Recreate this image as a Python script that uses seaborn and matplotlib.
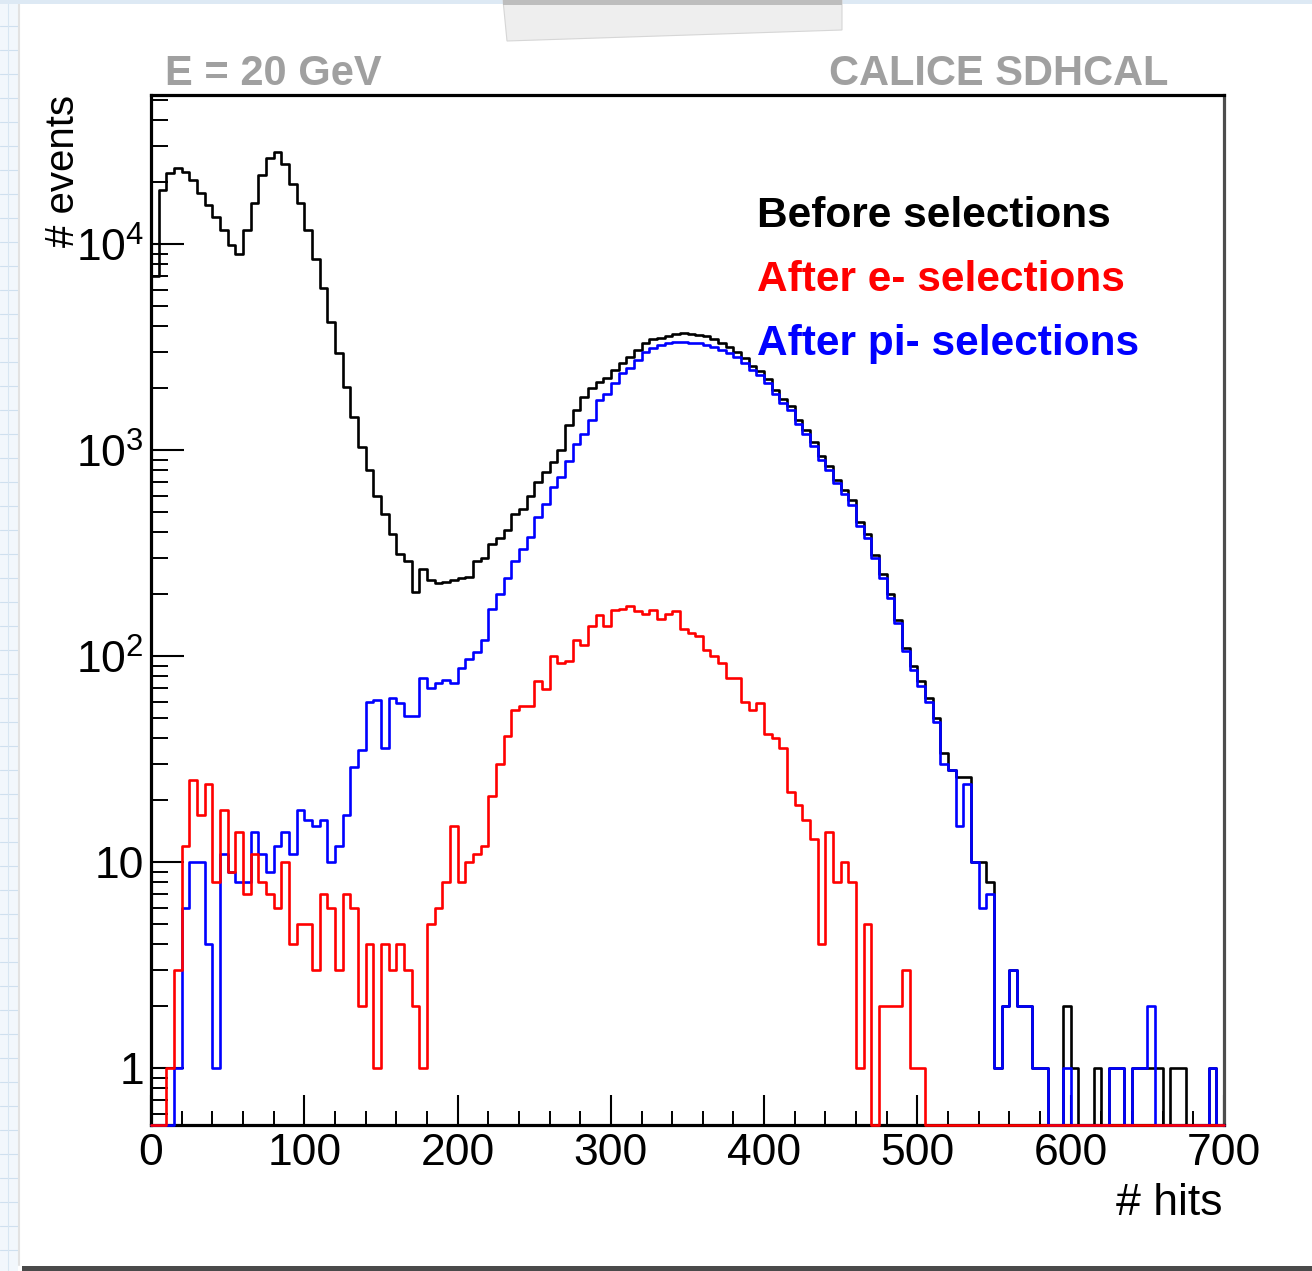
import numpy as np
import matplotlib
matplotlib.use("Agg")
import matplotlib.pyplot as plt
import seaborn as sns
from matplotlib import font_manager
from matplotlib.ticker import MultipleLocator, LogLocator, NullFormatter, FixedLocator, FixedFormatter
from matplotlib.patches import Rectangle, Polygon
from matplotlib.lines import Line2D

# ---------------- data (counts per 5-hit bin, 0..700) ----------------
bin_width = 5
x_range = (0, 700)

before_sel = [
    7000, 18300, 22100, 23400, 22400, 20400, 17700, 15500, 13600, 11700,
    9900, 9000, 11700, 15800, 21700, 26300, 28000, 24600, 19600, 15800,
    11700, 8500, 6100, 4200, 2950, 2030, 1450, 1040, 800, 600,
    490, 390, 315, 290, 205, 265, 234, 226, 230, 234,
    240, 242, 290, 300, 350, 375, 410, 490, 520, 600,
    700, 780, 880, 1000, 1320, 1570, 1820, 2000, 2150, 2250,
    2450, 2640, 2850, 3050, 3330, 3460, 3500, 3570, 3650, 3690,
    3680, 3640, 3570, 3460, 3330, 3170, 3000, 2800, 2560, 2420,
    2220, 1950, 1780, 1640, 1400, 1250, 1100, 940, 840, 720,
    640, 570, 450, 390, 310, 250, 200, 150, 110, 90,
    76, 63, 50, 34, 28, 26, 26, 10, 10, 8,
    1, 2, 3, 2, 2, 1, 1, 0, 0, 2,
    1, 0, 0, 1, 0, 1, 1, 0, 1, 1,
    1, 1, 0, 1, 1, 0, 0, 0, 1, 0,
]

after_pi_sel = [
    0, 0, 0, 1, 6, 10, 10, 4, 1, 11,
    9, 8, 8, 14, 11, 9, 12, 14, 11, 18,
    16, 15, 16, 10, 12, 17, 29, 35, 60, 61,
    36, 63, 59, 51, 51, 78, 70, 74, 77, 74,
    88, 97, 105, 120, 170, 200, 240, 290, 330, 380,
    475, 550, 665, 740, 890, 1070, 1200, 1400, 1750, 1880,
    2130, 2370, 2520, 2730, 2990, 3130, 3240, 3300, 3350, 3350,
    3320, 3300, 3250, 3170, 3060, 2950, 2820, 2650, 2460, 2320,
    2120, 1870, 1700, 1560, 1340, 1200, 1050, 900, 800, 690,
    610, 540, 430, 375, 300, 240, 192, 145, 106, 86,
    72, 60, 48, 30, 28, 15, 24, 10, 6, 7,
    1, 2, 3, 2, 2, 1, 1, 0, 0, 1,
    0, 0, 0, 0, 0, 1, 1, 0, 1, 1,
    2, 0, 0, 0, 0, 0, 0, 0, 1, 0,
]

after_e_sel = [
    0, 0, 1, 3, 12, 25, 17, 24, 8, 18,
    9, 14, 7, 11, 8, 7, 6, 10, 4, 5,
    5, 3, 7, 6, 3, 7, 6, 2, 4, 1,
    4, 3, 4, 3, 2, 1, 5, 6, 8, 15,
    8, 10, 11, 12, 21, 30, 41, 55, 57, 57,
    76, 69, 100, 93, 95, 120, 113, 140, 158, 140,
    167, 170, 175, 165, 160, 167, 152, 160, 165, 136,
    130, 125, 107, 100, 93, 78, 78, 60, 55, 59,
    42, 40, 36, 22, 19, 16, 13, 4, 14, 8,
    10, 8, 1, 5, 0, 2, 2, 2, 3, 1,
    1, 0, 0, 0, 0, 0, 0, 0, 0, 0,
    0, 0, 0, 0, 0, 0, 0, 0, 0, 0,
    0, 0, 0, 0, 0, 0, 0, 0, 0, 0,
    0, 0, 0, 0, 0, 0, 0, 0, 0, 0,
]

series_labels = ["Before selections", "After e- selections", "After pi- selections"]
series_colors = ["#000000", "#ff0000", "#0000ff"]
ytick_values = [1, 10, 100, 1000, 10000]
ytick_labels = ["1", "10", r"$\mathdefault{10^{2}}$", r"$\mathdefault{10^{3}}$", r"$\mathdefault{10^{4}}$"]
xtick_values = [0, 100, 200, 300, 400, 500, 600, 700]
xtick_labels = ["0", "100", "200", "300", "400", "500", "600", "700"]
title_left = "E = 20 GeV"
title_right = "CALICE SDHCAL"
x_title = "# hits"
y_title = "# events"

# ---------------- style ----------------
sns.set_theme(style="white")
names = {f.name for f in font_manager.fontManager.ttflist}
narrow = "Liberation Sans Narrow" if "Liberation Sans Narrow" in names else "Liberation Sans"
plt.rcParams["font.family"] = ["Liberation Sans", "DejaVu Sans"]

W, H = 1312, 1271
fig = plt.figure(figsize=(W / 100, H / 100), dpi=100)
fig.patch.set_facecolor("white")

def fx(x):
    return x / W

def fy(y):
    return 1 - y / H

# screenshot surroundings
fig.add_artist(Rectangle((0, 0), fx(18), 1, transform=fig.transFigure,
                         facecolor="#f2f7fc", edgecolor="none", zorder=0))
for yy in range(2, H, 24):
    fig.add_artist(Line2D([0, fx(18)], [fy(yy), fy(yy)], transform=fig.transFigure,
                          color="#cfe0ef", lw=0.8, zorder=0))
fig.add_artist(Line2D([fx(8), fx(8)], [0, 1], transform=fig.transFigure,
                      color="#d8e6f2", lw=0.8, zorder=0))
fig.add_artist(Line2D([fx(19), fx(19)], [fy(1265), fy(4)], transform=fig.transFigure,
                      color="#e2e2e2", lw=1.5, zorder=0))
fig.add_artist(Rectangle((0, fy(4)), 1, 4 / H, transform=fig.transFigure,
                         facecolor="#dde9f4", edgecolor="none", zorder=0))
fig.add_artist(Polygon([(fx(503), fy(0)), (fx(842), fy(0)), (fx(842), fy(30)), (fx(507), fy(41))],
                       closed=True, transform=fig.transFigure,
                       facecolor="#eeeeee", edgecolor="#d6d6d6", lw=0.8, zorder=0))
fig.add_artist(Rectangle((fx(503), fy(5)), fx(842) - fx(503), 5 / H, transform=fig.transFigure,
                         facecolor="#bdbdbd", edgecolor="none", zorder=0))
fig.add_artist(Rectangle((fx(22), 0), 1 - fx(22), 5 / H, transform=fig.transFigure,
                         facecolor="#4a4a4a", edgecolor="none", zorder=0))

ax = fig.add_axes([fx(151), fy(1125), fx(1224) - fx(151), fy(95) - fy(1125)])
ax.set_facecolor("white")

ymin, ymax = 0.53, 5.3e4
centers = np.arange(x_range[0], x_range[1], bin_width) + bin_width / 2

for vals, color in [(before_sel, series_colors[0]),
                    (after_pi_sel, series_colors[2]),
                    (after_e_sel, series_colors[1])]:
    shown = np.maximum(np.asarray(vals, dtype=float), ymin)
    sns.histplot(x=centers, weights=shown, binwidth=bin_width, binrange=x_range,
                 element="step", fill=False, color=color, linewidth=1.9,
                 ax=ax, clip_on=False, zorder=3)

ax.set_yscale("log")
ax.set_xlim(*x_range)
ax.set_ylim(ymin, ymax)
ax.set_xlabel("")
ax.set_ylabel("")

ax.xaxis.set_major_locator(FixedLocator(xtick_values))
ax.xaxis.set_major_formatter(FixedFormatter(xtick_labels))
ax.xaxis.set_minor_locator(MultipleLocator(20))
ax.yaxis.set_major_locator(FixedLocator(ytick_values))
ax.yaxis.set_major_formatter(FixedFormatter(ytick_labels))
ax.yaxis.set_minor_locator(LogLocator(base=10, subs=np.arange(2, 10), numticks=20))
ax.yaxis.set_minor_formatter(NullFormatter())

ax.tick_params(axis="both", which="both", direction="in", color="black",
               bottom=True, left=True, top=False, right=False)
ax.tick_params(axis="x", which="major", length=21.5, width=1.5, pad=6,
               labelsize=32, labelfontfamily=narrow, labelcolor="black")
ax.tick_params(axis="x", which="minor", length=10, width=1.4)
ax.tick_params(axis="y", which="major", length=24, width=1.5, pad=5,
               labelsize=32, labelfontfamily=narrow, labelcolor="black")
ax.tick_params(axis="y", which="minor", length=12, width=1.4)

for side in ["left", "bottom", "top"]:
    ax.spines[side].set_color("black")
    ax.spines[side].set_linewidth(2.3)
ax.spines["right"].set_color("#4d4d4d")
ax.spines["right"].set_linewidth(2.3)

# titles
fig.text(fx(165), fy(85), title_left, color="#a0a0a0", fontsize=30, fontweight="bold",
         ha="left", va="baseline")
fig.text(fx(1168), fy(85), title_right, color="#a0a0a0", fontsize=30, fontweight="bold",
         ha="right", va="baseline")

# axis titles
fig.text(fx(1222), fy(1215), x_title, fontsize=32, family=narrow, color="black",
         ha="right", va="baseline")
fig.text(fx(44), fy(95), y_title, fontsize=29, family=narrow, color="black",
         rotation=90, ha="right", va="top", rotation_mode="anchor")

# legend entries (text only)
for i, (lab, col) in enumerate(zip(series_labels, series_colors)):
    fig.text(fx(757), fy(227 + 64 * i), lab, color=col, fontsize=30.5,
             fontweight="bold", ha="left", va="baseline")

fig.savefig("out.png", dpi=100, facecolor="white")
